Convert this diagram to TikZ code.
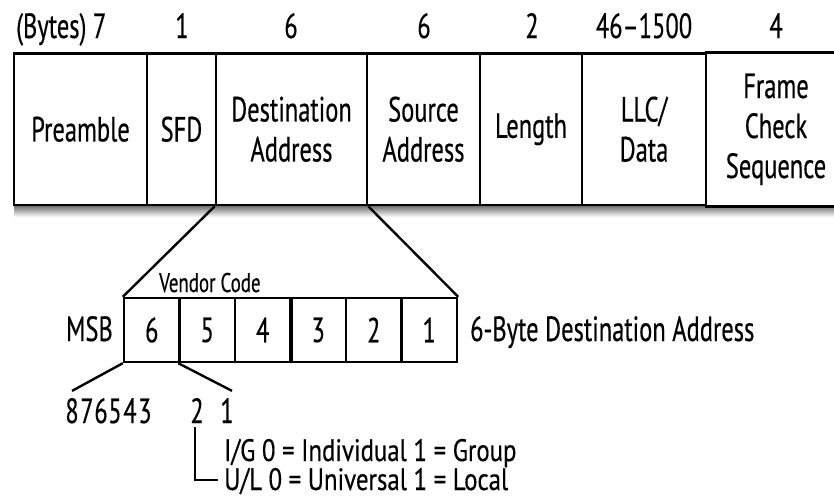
\documentclass[tikz,border=0pt]{standalone}
\usepackage{fontspec}
\setmainfont[FakeStretch=0.70,FakeBold=0.4]{PT Sans}
\newfontfamily\legendfont[FakeStretch=0.80,FakeBold=0.4]{PT Sans}
\begin{document}
\begin{tikzpicture}[x=1pt,y=-1pt,
  every node/.style={inner sep=0pt, text=black},
  big/.style={font=\fontsize{35}{40}\selectfont},
  mid/.style={font=\legendfont\fontsize{31}{31}\selectfont},
  small/.style={font=\fontsize{27}{30}\selectfont},
  cell/.style={big, draw, line width=2.6pt, rectangle, minimum height=151.5pt, align=center},
  bytebox/.style={big, draw, line width=2.4pt, rectangle, minimum width=55.5pt, minimum height=64pt},
  hdr/.style={big, anchor=base},
  conn/.style={line width=2.4pt},
  bit/.style={big, anchor=base}
]
\useasboundingbox (0,0) rectangle (834,499);
% shadow under the frame
\shade[top color=black!60, bottom color=white] (14,205) rectangle (834,217);
% header
\node[big, anchor=base west] (hb) at (16,38) {(Bytes) 7};
\node[hdr] (h1) at (182,38) {1};
\node[hdr] (h2) at (291,38) {6};
\node[hdr] (h3) at (424,38) {6};
\node[hdr] (h4) at (532,38) {2};
\node[hdr] (h5) at (644,38) {46–1500};
\node[hdr] (h6) at (776,38) {4};
% frame cells
\node[cell, minimum width=133pt] (pre) at (80.5,129.25) {Preamble};
\node[cell, minimum width=69pt] (sfd) at (181.5,129.25) {SFD};
\node[cell, minimum width=151pt] (dest) at (291.5,129.25) {Destination\\Address};
\node[cell, minimum width=113pt] (src) at (423.5,129.25) {Source\\Address};
\node[cell, minimum width=102pt] (len) at (531,129.25) {Length};
\node[cell, minimum width=124pt] (llc) at (644,129.25) {LLC/\\Data};
\node[cell, draw=none, minimum width=140pt] (fcs) at (776,129.25) {Frame\\Check\\Sequence};
\coordinate (redge) at (836,0);
\draw[line width=2.6pt] (fcs.north west) -- (fcs.north west -| redge);
\draw[line width=2.6pt] (fcs.south west) -- (fcs.south west -| redge);
% destination address bytes
\node[bytebox] (b6) at (151.75,330) {6};
\node[bytebox] (b5) at (207.25,330) {5};
\node[bytebox] (b4) at (262.75,330) {4};
\node[bytebox] (b3) at (318.25,330) {3};
\node[bytebox] (b2) at (373.75,330) {2};
\node[bytebox] (b1) at (429.25,330) {1};
\draw[line width=3.2pt] (b4.north east) -- (b4.south east);
\draw[conn] (dest.south west) -- (b6.north west);
\draw[conn] (dest.south east) -- (b1.north east);
\node[small, anchor=base west] (vc) at (159,292) {Vendor Code};
\node[big, anchor=base east] (msb) at (113,341) {MSB};
\node[big, anchor=base west] (dal) at (470,341) {6-Byte Destination Address};
% bits
\node[bit] (bit8) at (72,423) {8};
\node[bit] (bit7) at (87,423) {7};
\node[bit] (bit6) at (101,423) {6};
\node[bit] (bit5) at (115,423) {5};
\node[bit] (bit4) at (130,423) {4};
\node[bit] (bit3) at (145,423) {3};
\node[bit] (bit2) at (197,423) {2};
\node[bit] (bit1) at (227,423) {1};
\draw[conn] (b6.south west) -- ([yshift=7pt]bit8.north);
\draw[conn] (b5.south west) -- ([xshift=5pt,yshift=7pt]bit1.north);
\node[mid, anchor=base west] (ig) at (224,461) {I/G 0 = Individual 1 = Group};
\node[mid, anchor=base west] (ul) at (224,490) {U/L 0 = Universal 1 = Local};
\draw[conn] ([xshift=-2pt,yshift=-4pt]bit2.south) |- ([xshift=-6pt,yshift=10pt]ul.base west);
\end{tikzpicture}
\end{document}
